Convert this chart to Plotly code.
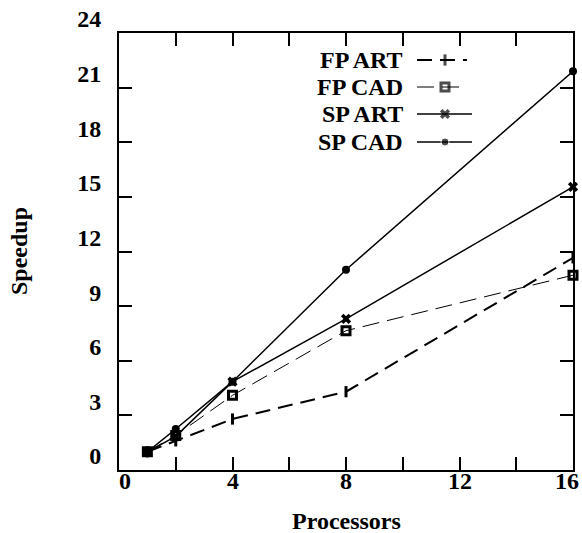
import plotly.graph_objects as go

processors = [1, 2, 4, 8, 16]
fp_art = [1.0, 1.6, 2.8, 4.3, 11.65]
fp_cad = [1.0, 1.9, 4.1, 7.65, 10.7]
sp_art = [1.0, 1.85, 4.85, 8.3, 15.55]
sp_cad = [1.0, 2.25, 4.85, 11.0, 21.9]
series_names = ["FP ART", "FP CAD", "SP ART", "SP CAD"]
x_tickvals = [0, 4, 8, 12, 16]
x_ticktext = ["0", "4", "8", "12", "16"]
y_tickvals = [0, 3, 6, 9, 12, 15, 18, 21, 24]
y_ticktext = ["0", "3", "6", "9", "12", "15", "18", "21", "24"]

FONT = "Liberation Serif"
FS = 24
W, H = 582, 533
L, R, T, B = 119, 9, 33, 63
PW, PH = W - L - R, H - T - B

def font():
    return dict(family=FONT, size=FS, color="black", weight="bold")

styles = [
    dict(line=dict(color="black", width=2, dash="15px,8px"),
         marker=dict(symbol="line-ns", size=8, line=dict(color="black", width=3))),
    dict(line=dict(color="black", width=1, dash="17px,8px"),
         marker=dict(symbol="square-open", size=8, color="black", line=dict(color="black", width=3))),
    dict(line=dict(color="black", width=1.5),
         marker=dict(symbol="x", size=9, color="black", line=dict(width=0))),
    dict(line=dict(color="black", width=1.5),
         marker=dict(symbol="circle", size=8, color="black")),
]
data = [fp_art, fp_cad, sp_art, sp_cad]

fig = go.Figure()
for name, ys, st in zip(series_names, data, styles):
    fig.add_trace(go.Scatter(x=processors, y=ys, mode="lines+markers", name=name,
                             line=st["line"], marker=st["marker"], showlegend=False,
                             cliponaxis=False))

annotations = []
# custom legend (text left, sample right), drawn on an overlay axis in pixel units
leg_rows = [60, 87, 114, 142]
for name, yrow, st in zip(series_names, leg_rows, styles):
    x_end = 467 if name.startswith("FP") else 472
    m = dict(st["marker"])
    m["size"] = [0, st["marker"]["size"], 0]
    fig.add_trace(go.Scatter(x=[417, 445, x_end], y=[yrow] * 3, mode="lines+markers",
                             line=st["line"], marker=m, showlegend=False,
                             xaxis="x2", yaxis="y2", hoverinfo="skip"))
    annotations.append(dict(x=405, y=yrow, xref="x2", yref="y2", text="<b>" + name + "</b>",
                            showarrow=False, xanchor="right", yanchor="middle", font=font()))

# x tick labels (edge labels nudged inward as in the reference)
x_shift = {0: 6, 16: -6}
for v, t in zip(x_tickvals, x_ticktext):
    annotations.append(dict(x=v, y=0, xref="x", yref="paper", text="<b>" + t + "</b>",
                            showarrow=False, xanchor="center", yanchor="top", yshift=4,
                            xshift=x_shift.get(v, 0), font=font()))

annotations += [
    dict(text="<b>Processors</b>", x=0.5, xref="paper", y=(H - B - 521) / PH, yref="paper",
         showarrow=False, xanchor="center", yanchor="middle", font=font()),
    dict(text="<b>Speedup</b>", x=(18.5 - L) / PW, xref="paper", y=0.5, yref="paper",
         showarrow=False, textangle=-90, xanchor="center", yanchor="middle", font=font()),
]

axis_common = dict(showline=True, linecolor="black", linewidth=2, mirror="ticks",
                   ticks="inside", ticklen=13, tickwidth=1.5, tickcolor="black",
                   showgrid=False, zeroline=False, automargin=False,
                   tickfont=font())

fig.update_layout(
    width=W, height=H,
    margin=dict(l=L, r=R, t=T, b=B, autoexpand=False),
    plot_bgcolor="white", paper_bgcolor="white",
    xaxis=dict(range=[0, 16], tickvals=x_tickvals, showticklabels=False,
               minor=dict(dtick=2, ticks="inside", ticklen=13, tickwidth=1.5, tickcolor="black"),
               **axis_common),
    yaxis=dict(range=[0, 24], tickvals=y_tickvals,
               ticktext=["<b>" + t + "</b>" for t in y_ticktext],
               ticklabelshift=-14, ticklabelstandoff=11,
               **axis_common),
    xaxis2=dict(range=[L, W - R], overlaying="x", visible=False, fixedrange=True, automargin=False),
    yaxis2=dict(range=[H - B, T], overlaying="y", visible=False, fixedrange=True, automargin=False),
    annotations=annotations,
)
fig.write_html("out.html", config={"displayModeBar": False},
               post_script="document.body.style.margin='0';document.body.style.overflow='hidden';")
